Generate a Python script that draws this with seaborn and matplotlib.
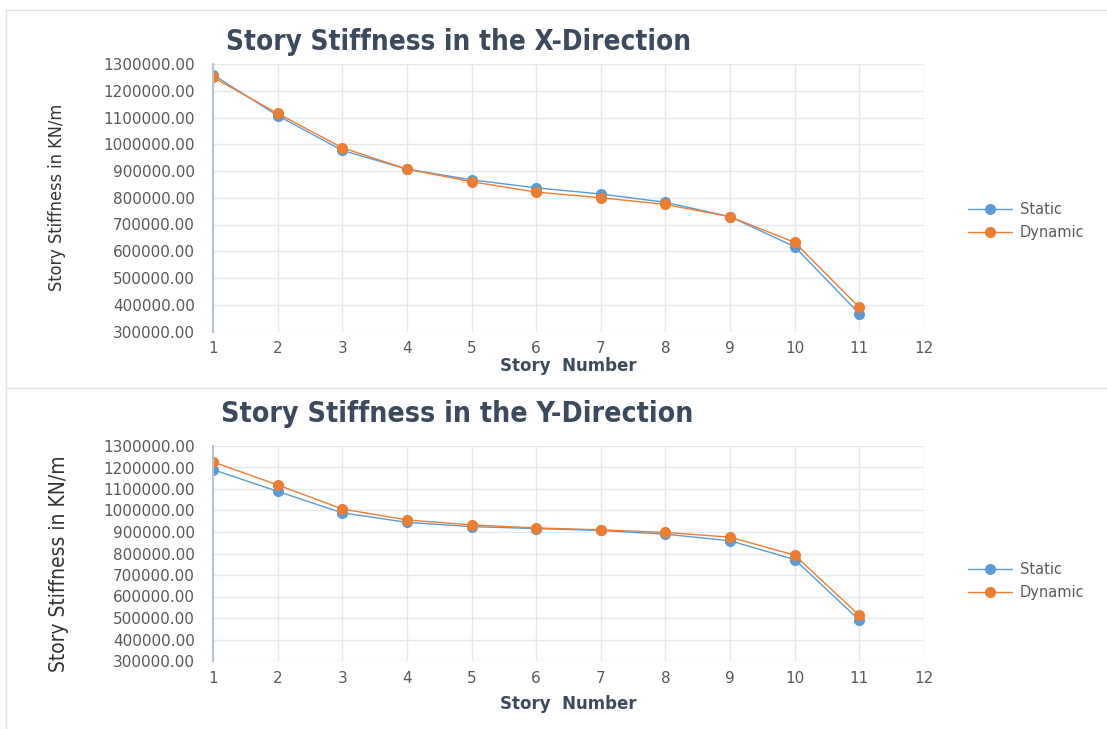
import numpy as np
import pandas as pd
import matplotlib
matplotlib.use("Agg")
import matplotlib.pyplot as plt
import seaborn as sns
from matplotlib.lines import Line2D

# story numbers
stories = [1, 2, 3, 4, 5, 6, 7, 8, 9, 10, 11]

# X-direction story stiffness (KN/m)
x_static = [1260000, 1107000, 977000, 907000, 867000, 837000, 814000, 783000, 729000, 617000, 366000]
x_dynamic = [1250000, 1115000, 987000, 907000, 860000, 821000, 800000, 775000, 729000, 633000, 390000]

# Y-direction story stiffness (KN/m)
y_static = [1190000, 1089000, 989000, 945000, 925000, 916000, 907000, 890000, 859000, 772000, 490000]
y_dynamic = [1226000, 1119000, 1007000, 956000, 933000, 919000, 910000, 898000, 876000, 792000, 512000]

titles = ["Story Stiffness in the X-Direction", "Story Stiffness in the Y-Direction"]
series_names = ["Static", "Dynamic"]
colors = {"Static": "#5B9BD5", "Dynamic": "#ED7D31"}

sns.set_style("white")
plt.rcParams["font.family"] = ["DejaVu Sans"]

fig = plt.figure(figsize=(11.07, 7.29), dpi=100)
fig.patch.set_facecolor("white")

axes_rects = [
    [213 / 1107, 1 - 331.5 / 729, 711 / 1107, 267.5 / 729],
    [213 / 1107, 1 - 661 / 729, 711 / 1107, 215 / 729],
]
panels = [(x_static, x_dynamic), (y_static, y_dynamic)]
title_x = [459, 457]
title_y = [42, 414]
title_size = [20, 20.4]
xlabel_y = [366, 704]
ylabel_x = [57, 59]
ylabel_y = [197, 564]
ylabel_size = [13, 15]
legend_y = [(210, 232), (568, 594)]

title_color = "#3C4A5E"
tick_color = "#595959"
grid_color = "#E3E7EE"

for i, (rect, (s_vals, d_vals)) in enumerate(zip(axes_rects, panels)):
    ax = fig.add_axes(rect)
    df = pd.DataFrame({
        "story": stories * 2,
        "stiffness": s_vals + d_vals,
        "case": ["Static"] * len(stories) + ["Dynamic"] * len(stories),
    })
    sns.lineplot(data=df, x="story", y="stiffness", hue="case", hue_order=series_names,
                 palette=colors, marker="o", markersize=8, markeredgewidth=0,
                 linewidth=1.0, ax=ax, legend=False)
    ax.set_xlim(1, 12)
    ax.set_ylim(300000, 1300000)
    ax.set_xticks(range(1, 13))
    ax.set_yticks(np.arange(300000, 1300001, 100000))
    ax.set_yticklabels([f"{v:.2f}" for v in np.arange(300000, 1300001, 100000)])
    ax.tick_params(axis="both", colors=tick_color, labelsize=11, length=0)
    ax.tick_params(axis="x", pad=7)
    ax.tick_params(axis="y", pad=13)
    ax.grid(True, color=grid_color, linewidth=1.0)
    ax.set_axisbelow(True)
    for side in ["top", "right", "bottom"]:
        ax.spines[side].set_visible(False)
    ax.spines["left"].set_color("#B4C3D6")
    ax.spines["left"].set_linewidth(1.5)
    ax.set_xlabel("")
    ax.set_ylabel("")

    fig.text(title_x[i] / 1107, 1 - title_y[i] / 729, titles[i], ha="center", va="center",
             fontsize=title_size[i], fontweight="bold", color=title_color,
             fontstretch="condensed", family=["DejaVu Sans"])
    fig.text(568 / 1107, 1 - xlabel_y[i] / 729, "Story  Number", ha="center", va="center",
             fontsize=12, fontweight="bold", color=title_color, family=["DejaVu Sans"])
    fig.text(ylabel_x[i] / 1107, 1 - ylabel_y[i] / 729, "Story Stiffness in KN/m",
             ha="center", va="center", rotation=90, fontsize=ylabel_size[i],
             color="#333333", fontstretch="condensed", family=["DejaVu Sans"])

    handles = [Line2D([0], [0], color=colors[n], marker="o", markersize=8,
                      markeredgewidth=0, linewidth=1.0) for n in series_names]
    leg = ax.legend(handles, series_names, loc="center left",
                    bbox_to_anchor=(955 / 1107, 1 - (sum(legend_y[i]) / 2) / 729),
                    bbox_transform=fig.transFigure, frameon=False, fontsize=10.5,
                    handlelength=3.0, handletextpad=0.55, labelspacing=0.5)
    for t in leg.get_texts():
        t.set_color(tick_color)

# panel frame lines
frame_color = "#E2E2E2"
fig.add_artist(Line2D([6 / 1107, 1], [1 - 10 / 729, 1 - 10 / 729], color=frame_color,
                      linewidth=1.0, transform=fig.transFigure))
fig.add_artist(Line2D([6 / 1107, 1], [1 - 388 / 729, 1 - 388 / 729], color=frame_color,
                      linewidth=1.0, transform=fig.transFigure))
fig.add_artist(Line2D([6 / 1107, 6 / 1107], [0, 1 - 10 / 729], color=frame_color,
                      linewidth=1.0, transform=fig.transFigure))

fig.savefig("out.png", dpi=100, facecolor="white")
